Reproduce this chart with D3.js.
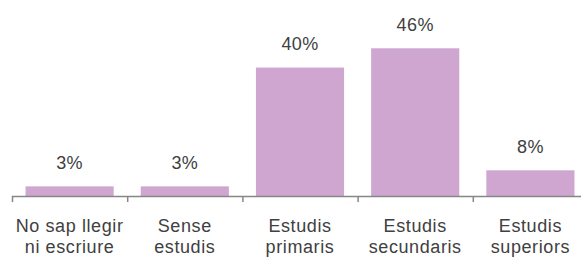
<!doctype html>
<html>
<head>
<script src="https://cdn.jsdelivr.net/npm/d3@7"></script>
<style>
  body { margin: 0; background: #fff; }
</style>
</head>
<body>
<svg width="581" height="257"></svg>
<script>
    // data
    var categories = [["No sap llegir", "ni escriure"], ["Sense", "estudis"], ["Estudis", "primaris"], ["Estudis", "secundaris"], ["Estudis", "superiors"]];
    var values = [3, 3, 40, 46, 8];
    var valueLabels = ["3%", "3%", "40%", "46%", "8%"];

    var svg = d3.select("svg"),
        left = 12, right = 588,
        baseline = 196;

    var xScale = d3.scaleBand().domain(d3.range(values.length)).range([left, right]).paddingInner(0.235).paddingOuter(0.1175),
        yScale = d3.scaleLinear().domain([0, 46]).range([baseline, baseline - 147.7]);

    var font = "'Liberation Sans', Arial, sans-serif";

    // bars
    svg.append("g")
       .selectAll("rect")
       .data(values)
       .enter()
       .append("rect")
       .attr("x", function (d, i) { return xScale(i); })
       .attr("y", function (d) { return yScale(d); })
       .attr("width", xScale.bandwidth())
       .attr("height", function (d) { return baseline - yScale(d); })
       .style("fill", "#CEA6D0");

    // value labels
    svg.append("g")
       .selectAll("text")
       .data(values)
       .enter()
       .append("text")
       .attr("x", function (d, i) { return xScale(i) + xScale.bandwidth() / 2; })
       .attr("y", function (d) { return yScale(d) - 17.5; })
       .attr("text-anchor", "middle")
       .style("font-family", font)
       .style("font-size", "18px")
       .style("letter-spacing", "0.4px")
       .style("fill", "#404040")
       .text(function (d, i) { return valueLabels[i]; });

    // axis
    var step = xScale.step();
    var axis = svg.append("g").style("stroke", "#868686").style("stroke-width", 1.5);
    axis.append("line")
        .attr("x1", left).attr("x2", right)
        .attr("y1", baseline + 0.5).attr("y2", baseline + 0.5);
    axis.selectAll(".tick")
        .data(d3.range(values.length + 1))
        .enter()
        .append("line")
        .attr("x1", function (d) { return left + d * step + 0.5; })
        .attr("x2", function (d) { return left + d * step + 0.5; })
        .attr("y1", baseline).attr("y2", baseline + 6);

    // category labels, one text per line
    var lines = [];
    categories.forEach(function (c, i) {
        c.forEach(function (s, j) { lines.push({ text: s, i: i, j: j }); });
    });
    svg.append("g")
       .selectAll("text")
       .data(lines)
       .enter()
       .append("text")
       .attr("x", function (d) { return xScale(d.i) + xScale.bandwidth() / 2; })
       .attr("y", function (d) { return 232 + d.j * 21; })
       .attr("text-anchor", "middle")
       .style("font-family", font)
       .style("font-size", "18px")
       .style("letter-spacing", "0.6px")
       .style("fill", "#404040")
       .text(function (d) { return d.text; });
</script>
</body>
</html>
